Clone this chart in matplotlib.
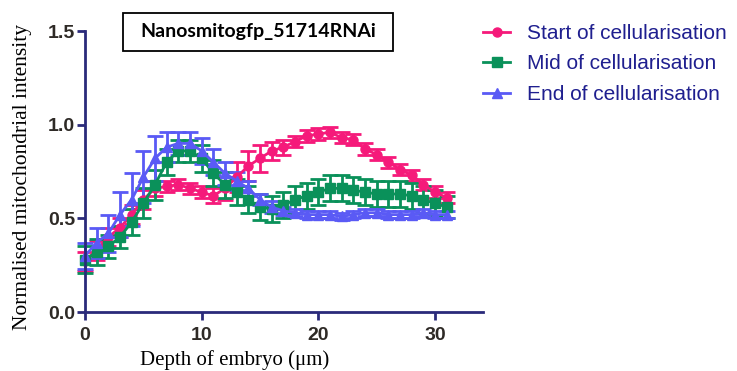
import matplotlib.pyplot as plt
from matplotlib.patches import Rectangle

# 深さ (µm)
depth = list(range(32))

start_mean = [0.27, 0.33, 0.40, 0.45, 0.52, 0.60, 0.66, 0.67, 0.68, 0.66, 0.64, 0.62,
              0.66, 0.72, 0.78, 0.82, 0.86, 0.88, 0.91, 0.94, 0.95, 0.96, 0.93, 0.92,
              0.87, 0.84, 0.80, 0.76, 0.73, 0.68, 0.64, 0.61]
start_err = [0.05, 0.05, 0.05, 0.05, 0.05, 0.05, 0.04, 0.03, 0.03, 0.03, 0.03, 0.04,
             0.06, 0.08, 0.08, 0.07, 0.05, 0.04, 0.03, 0.03, 0.03, 0.03, 0.03, 0.03,
             0.03, 0.03, 0.03, 0.03, 0.03, 0.03, 0.03, 0.03]

mid_mean = [0.28, 0.32, 0.35, 0.40, 0.48, 0.58, 0.68, 0.80, 0.86, 0.86, 0.82, 0.74,
            0.68, 0.64, 0.60, 0.56, 0.55, 0.57, 0.60, 0.62, 0.64, 0.66, 0.66, 0.65,
            0.64, 0.63, 0.63, 0.63, 0.62, 0.60, 0.58, 0.56]
mid_err = [0.07, 0.07, 0.06, 0.06, 0.07, 0.08, 0.08, 0.07, 0.06, 0.06, 0.07, 0.07,
           0.07, 0.07, 0.07, 0.07, 0.07, 0.07, 0.07, 0.07, 0.07, 0.07, 0.07, 0.07,
           0.07, 0.07, 0.07, 0.07, 0.07, 0.07, 0.07, 0.06]

end_mean = [0.30, 0.37, 0.42, 0.52, 0.60, 0.72, 0.82, 0.88, 0.90, 0.90, 0.86, 0.80,
            0.74, 0.70, 0.66, 0.60, 0.56, 0.54, 0.53, 0.52, 0.52, 0.52, 0.51, 0.52,
            0.53, 0.53, 0.52, 0.52, 0.52, 0.53, 0.52, 0.52]
end_err = [0.07, 0.08, 0.10, 0.12, 0.14, 0.14, 0.12, 0.08, 0.06, 0.06, 0.07, 0.07,
           0.06, 0.05, 0.04, 0.03, 0.03, 0.02, 0.02, 0.02, 0.02, 0.02, 0.02, 0.02,
           0.02, 0.02, 0.02, 0.02, 0.02, 0.02, 0.02, 0.02]

series = [
    ("Start of cellularisation", start_mean, start_err, "#f51a7a", "o"),
    ("Mid of cellularisation", mid_mean, mid_err, "#0a915a", "s"),
    ("End of cellularisation", end_mean, end_err, "#5a5af5", "^"),
]

navy = "#2a2a7a"

fig = plt.figure(figsize=(7.37, 3.71), dpi=100)
ax = fig.add_axes([0.1153, 0.159, 0.54, 0.7574])

handles = []
for label, m, e, c, mk in series:
    cont = ax.errorbar(depth, m, yerr=e, color=c, marker=mk, markersize=6.5, linewidth=2,
                       elinewidth=2, capsize=6, capthick=2, label=label, clip_on=False)
    handles.append(cont.lines[0])

ax.set_xlim(0, 34.1)
ax.set_ylim(0, 1.5)
ax.set_xticks([0, 10, 20, 30])
ax.set_yticks([0.0, 0.5, 1.0, 1.5])
ax.set_yticklabels(["0.0", "0.5", "1.0", "1.5"])

for s in ["top", "right"]:
    ax.spines[s].set_visible(False)
for s in ["left", "bottom"]:
    ax.spines[s].set_color(navy)
    ax.spines[s].set_linewidth(2)
ax.tick_params(color=navy, width=2, length=6, labelsize=14)
ax.tick_params(axis="x", pad=5)
ax.tick_params(axis="y", pad=1)
for lbl in ax.get_xticklabels() + ax.get_yticklabels():
    lbl.set_fontweight("bold")
    lbl.set_fontfamily("Liberation Sans")
    lbl.set_color("#2e2a26")

# 軸ラベル
fig.text(235 / 737, 1 / 371, "Depth of embryo (\u03bcm)", fontsize=15,
         family="Liberation Serif", ha="center", va="bottom")
fig.text(23 / 737, 1 - 177 / 371, "Normalised mitochondrial intensity", fontsize=15.5,
         family="Liberation Serif", ha="center", va="center", rotation=90)

# タイトルの枠
fig.patches.append(Rectangle((123 / 737, 1 - 51 / 371), 270 / 737, 38 / 371,
                             transform=fig.transFigure, facecolor="white",
                             edgecolor="black", linewidth=1.3))
fig.text(258 / 737, 1 - 32 / 371, "Nanosmitogfp_51714RNAi", fontsize=14,
         fontweight="bold", family="Lato", ha="center", va="center")

leg = fig.legend(handles=handles, labels=[s[0] for s in series], loc="upper left",
                 bbox_to_anchor=(483 / 737, 1 - 24 / 371), frameon=False,
                 prop={"family": "Liberation Sans", "size": 15}, handlelength=1.3,
                 handletextpad=0.8, labelspacing=0.55, borderpad=0, borderaxespad=0)
for t in leg.get_texts():
    t.set_color("#1f1f8f")

plt.savefig("out.png", dpi=100)
